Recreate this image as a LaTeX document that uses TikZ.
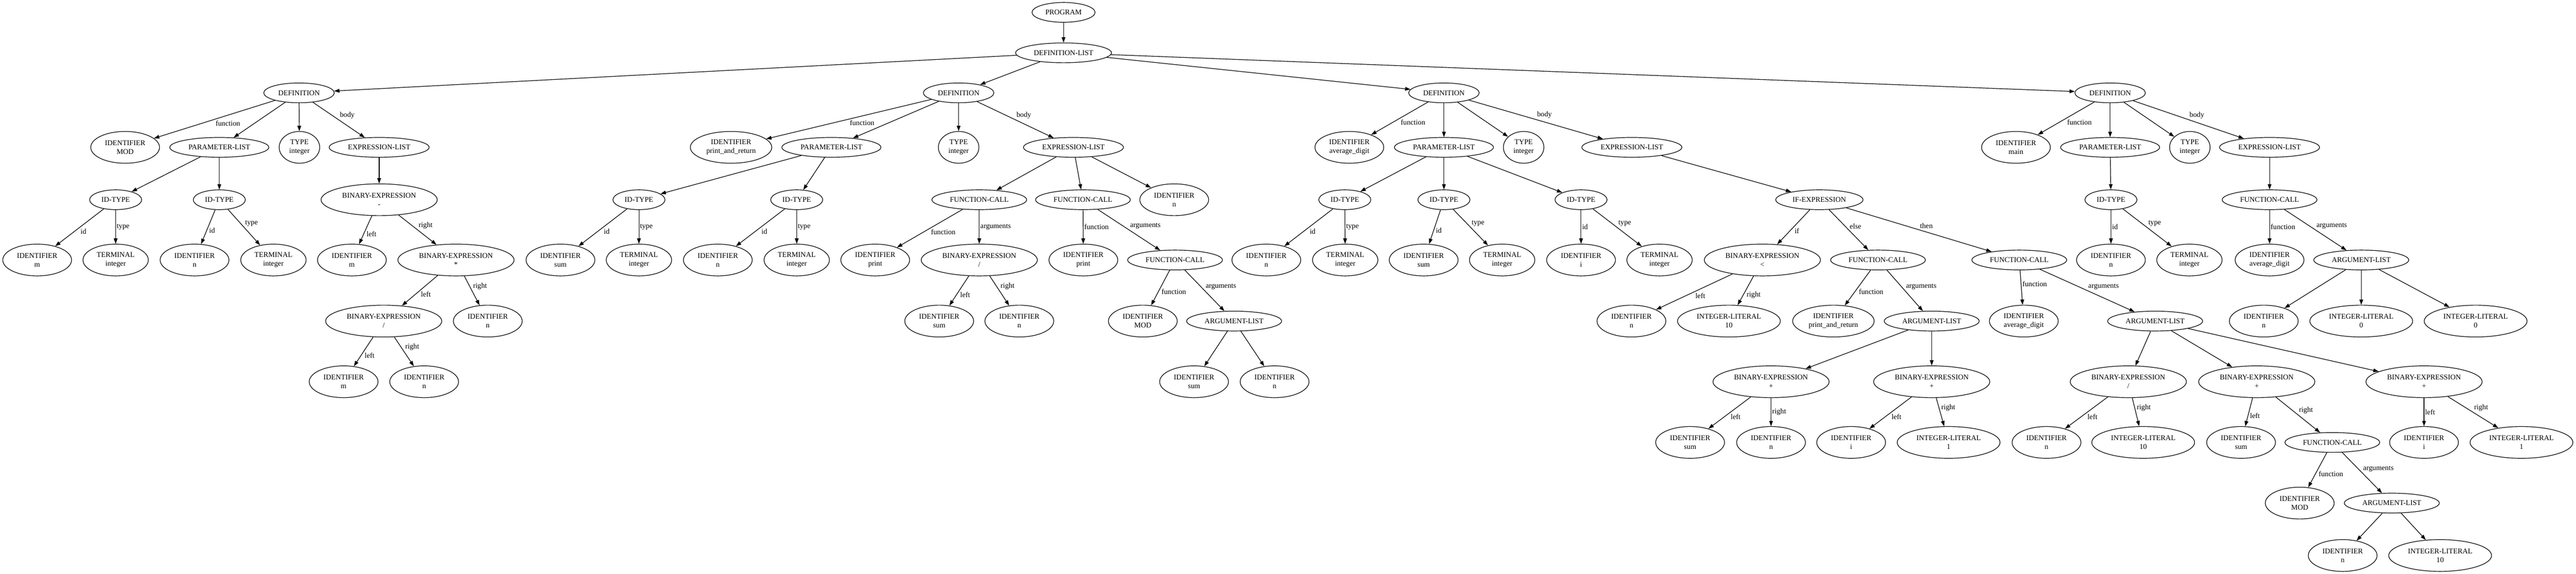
\documentclass[tikz,border=0pt]{standalone}
\usepackage{fontspec}
\setmainfont{Liberation Serif}
\usetikzlibrary{shapes.geometric,arrows.meta}

\tikzset{
  ast/.style={draw, ellipse, line width=0.015cm, inner xsep=0.1cm, inner ysep=0.05cm,
    minimum width=0.69cm, minimum height=0.48cm, align=center},
  val/.style={ast, minimum height=0.77cm},
  link/.style={->, line width=0.015cm},
  lbl/.style={auto, inner sep=0.02cm}
}

\begin{document}
\begin{tikzpicture}[>={Triangle[length=0.13cm,width=0.09cm]},font=\fontsize{5.06}{6.09}\selectfont]
    \useasboundingbox (0,0) rectangle (62.37,-13.90);

    % root
    \node[ast] (prog) at (25.75,-0.30) {PROGRAM};
    \node[ast] (deflist) at (25.75,-1.28) {DEFINITION-LIST};

    % MOD
    \node[ast] (defA) at (7.24,-2.25) {DEFINITION};
    \node[val] (aName) at (3.03,-3.57) {IDENTIFIER\\MOD};
    \node[ast] (aPar) at (5.31,-3.57) {PARAMETER-LIST};
    \node[val] (aType) at (7.25,-3.57) {TYPE\\integer};
    \node[ast] (aBody) at (9.18,-3.57) {EXPRESSION-LIST};
    \node[ast] (aP1) at (2.80,-4.84) {ID-TYPE};
    \node[ast] (aP2) at (5.31,-4.84) {ID-TYPE};
    \node[val] (aB1) at (9.18,-4.84) {BINARY-EXPRESSION\\-};
    \node[val] (aP1i) at (0.90,-6.30) {IDENTIFIER\\m};
    \node[val] (aP1t) at (2.80,-6.30) {TERMINAL\\integer};
    \node[val] (aP2i) at (4.71,-6.30) {IDENTIFIER\\n};
    \node[val] (aP2t) at (6.62,-6.30) {TERMINAL\\integer};
    \node[val] (aB1l) at (8.52,-6.30) {IDENTIFIER\\m};
    \node[val] (aB2) at (11.04,-6.30) {BINARY-EXPRESSION\\*};
    \node[val] (aB3) at (9.29,-7.78) {BINARY-EXPRESSION\\/};
    \node[val] (aB2r) at (11.81,-7.78) {IDENTIFIER\\n};
    \node[val] (aB3l) at (8.32,-9.25) {IDENTIFIER\\m};
    \node[val] (aB3r) at (10.27,-9.25) {IDENTIFIER\\n};

    % print_and_return
    \node[ast] (defB) at (23.21,-2.25) {DEFINITION};
    \node[val] (bName) at (17.70,-3.57) {IDENTIFIER\\print\_and\_return};
    \node[ast] (bPar) at (20.13,-3.57) {PARAMETER-LIST};
    \node[val] (bType) at (23.21,-3.57) {TYPE\\integer};
    \node[ast] (bBody) at (25.99,-3.57) {EXPRESSION-LIST};
    \node[ast] (bP1) at (15.47,-4.84) {ID-TYPE};
    \node[ast] (bP2) at (19.29,-4.84) {ID-TYPE};
    \node[ast] (bC1) at (23.71,-4.84) {FUNCTION-CALL};
    \node[ast] (bC2) at (26.22,-4.84) {FUNCTION-CALL};
    \node[val] (bRet) at (28.43,-4.84) {IDENTIFIER\\n};
    \node[val] (bP1i) at (13.57,-6.30) {IDENTIFIER\\sum};
    \node[val] (bP1t) at (15.47,-6.30) {TERMINAL\\integer};
    \node[val] (bP2i) at (17.38,-6.30) {IDENTIFIER\\n};
    \node[val] (bP2t) at (19.29,-6.30) {TERMINAL\\integer};
    \node[val] (bC1f) at (21.19,-6.30) {IDENTIFIER\\print};
    \node[val] (bC1a) at (23.71,-6.30) {BINARY-EXPRESSION\\/};
    \node[val] (bC2f) at (26.23,-6.30) {IDENTIFIER\\print};
    \node[ast] (bC3) at (28.45,-6.30) {FUNCTION-CALL};
    \node[val] (bC1l) at (22.74,-7.78) {IDENTIFIER\\sum};
    \node[val] (bC1r) at (24.68,-7.78) {IDENTIFIER\\n};
    \node[val] (bC3f) at (27.67,-7.78) {IDENTIFIER\\MOD};
    \node[ast] (bC3a) at (29.88,-7.78) {ARGUMENT-LIST};
    \node[val] (bC3a1) at (28.91,-9.25) {IDENTIFIER\\sum};
    \node[val] (bC3a2) at (30.86,-9.25) {IDENTIFIER\\n};

    % average_digit
    \node[ast] (defC) at (34.96,-2.25) {DEFINITION};
    \node[val] (cName) at (32.67,-3.57) {IDENTIFIER\\average\_digit};
    \node[ast] (cPar) at (34.96,-3.57) {PARAMETER-LIST};
    \node[val] (cType) at (36.89,-3.57) {TYPE\\integer};
    \node[ast] (cBody) at (39.51,-3.57) {EXPRESSION-LIST};
    \node[ast] (cP1) at (32.56,-4.84) {ID-TYPE};
    \node[ast] (cP2) at (34.96,-4.84) {ID-TYPE};
    \node[ast] (cP3) at (38.28,-4.84) {ID-TYPE};
    \node[ast] (cIf) at (44.05,-4.84) {IF-EXPRESSION};
    \node[val] (cP1i) at (30.66,-6.30) {IDENTIFIER\\n};
    \node[val] (cP1t) at (32.57,-6.30) {TERMINAL\\integer};
    \node[val] (cP2i) at (34.47,-6.30) {IDENTIFIER\\sum};
    \node[val] (cP2t) at (36.37,-6.30) {TERMINAL\\integer};
    \node[val] (cP3i) at (38.28,-6.30) {IDENTIFIER\\i};
    \node[val] (cP3t) at (40.18,-6.30) {TERMINAL\\integer};
    \node[val] (cCond) at (42.67,-6.30) {BINARY-EXPRESSION\\<};
    \node[ast] (cElse) at (45.47,-6.30) {FUNCTION-CALL};
    \node[ast] (cThen) at (48.89,-6.30) {FUNCTION-CALL};
    \node[val] (cCondl) at (39.50,-7.78) {IDENTIFIER\\n};
    \node[val] (cCondr) at (41.86,-7.78) {INTEGER-LITERAL\\10};
    \node[val] (cElsef) at (44.39,-7.78) {IDENTIFIER\\print\_and\_return};
    \node[ast] (cElsea) at (46.77,-7.78) {ARGUMENT-LIST};
    \node[val] (cThenf) at (49.00,-7.78) {IDENTIFIER\\average\_digit};
    \node[ast] (cThena) at (52.18,-7.78) {ARGUMENT-LIST};
    \node[val] (cE1) at (42.88,-9.25) {BINARY-EXPRESSION\\+};
    \node[val] (cE2) at (46.77,-9.25) {BINARY-EXPRESSION\\+};
    \node[val] (cT1) at (51.53,-9.25) {BINARY-EXPRESSION\\/};
    \node[val] (cT2) at (54.64,-9.25) {BINARY-EXPRESSION\\+};
    \node[val] (cT3) at (58.69,-9.25) {BINARY-EXPRESSION\\+};
    \node[val] (cE1l) at (40.92,-10.72) {IDENTIFIER\\sum};
    \node[val] (cE1r) at (42.88,-10.72) {IDENTIFIER\\n};
    \node[val] (cE2l) at (44.82,-10.72) {IDENTIFIER\\i};
    \node[val] (cE2r) at (47.18,-10.72) {INTEGER-LITERAL\\1};
    \node[val] (cT1l) at (49.55,-10.72) {IDENTIFIER\\n};
    \node[val] (cT1r) at (51.89,-10.72) {INTEGER-LITERAL\\10};
    \node[val] (cT2l) at (54.26,-10.72) {IDENTIFIER\\sum};
    \node[ast] (cT2r) at (56.47,-10.72) {FUNCTION-CALL};
    \node[val] (cT3l) at (58.69,-10.72) {IDENTIFIER\\i};
    \node[val] (cT3r) at (61.05,-10.72) {INTEGER-LITERAL\\1};
    \node[val] (cModf) at (55.68,-12.19) {IDENTIFIER\\MOD};
    \node[ast] (cModa) at (57.91,-12.19) {ARGUMENT-LIST};
    \node[val] (cModa1) at (56.72,-13.46) {IDENTIFIER\\n};
    \node[val] (cModa2) at (59.08,-13.46) {INTEGER-LITERAL\\10};

    % main
    \node[ast] (defD) at (51.09,-2.25) {DEFINITION};
    \node[val] (dName) at (48.81,-3.57) {IDENTIFIER\\main};
    \node[ast] (dPar) at (51.09,-3.57) {PARAMETER-LIST};
    \node[val] (dType) at (53.02,-3.57) {TYPE\\integer};
    \node[ast] (dBody) at (54.95,-3.57) {EXPRESSION-LIST};
    \node[ast] (dP1) at (51.11,-4.84) {ID-TYPE};
    \node[ast] (dCall) at (54.95,-4.84) {FUNCTION-CALL};
    \node[val] (dP1i) at (51.11,-6.30) {IDENTIFIER\\n};
    \node[val] (dP1t) at (53.01,-6.30) {TERMINAL\\integer};
    \node[val] (dCallf) at (54.95,-6.30) {IDENTIFIER\\average\_digit};
    \node[ast] (dCalla) at (57.17,-6.30) {ARGUMENT-LIST};
    \node[val] (dA1) at (54.81,-7.78) {IDENTIFIER\\n};
    \node[val] (dA2) at (57.17,-7.78) {INTEGER-LITERAL\\0};
    \node[val] (dA3) at (59.94,-7.78) {INTEGER-LITERAL\\0};

    % plain edges
    \foreach \a/\b in {prog/deflist, deflist/defA, deflist/defB, deflist/defC, deflist/defD,
        defA/aPar, defA/aType, aPar/aP1, aPar/aP2, aBody/aB1,
        defB/bPar, defB/bType, bPar/bP1, bPar/bP2, bBody/bC1, bBody/bC2, bBody/bRet,
        bC3a/bC3a1, bC3a/bC3a2,
        defC/cPar, defC/cType, cPar/cP1, cPar/cP2, cPar/cP3, cBody/cIf,
        cElsea/cE1, cElsea/cE2, cThena/cT1, cThena/cT2, cThena/cT3, cModa/cModa1, cModa/cModa2,
        defD/dPar, defD/dType, dPar/dP1, dBody/dCall, dCalla/dA1, dCalla/dA2, dCalla/dA3}
        \draw[link] (\a) -- (\b);

    % labelled edges
    \foreach \a/\b/\l in {defA/aName/function, defA/aBody/body,
        aP1/aP1i/id, aP1/aP1t/type, aP2/aP2i/id, aP2/aP2t/type,
        aB1/aB1l/left, aB1/aB2/right, aB2/aB3/left, aB2/aB2r/right, aB3/aB3l/left, aB3/aB3r/right,
        defB/bName/function, defB/bBody/body,
        bP1/bP1i/id, bP1/bP1t/type, bP2/bP2i/id, bP2/bP2t/type,
        bC1/bC1f/function, bC1/bC1a/arguments, bC1a/bC1l/left, bC1a/bC1r/right,
        bC2/bC2f/function, bC2/bC3/arguments, bC3/bC3f/function, bC3/bC3a/arguments,
        defC/cName/function, defC/cBody/body,
        cP1/cP1i/id, cP1/cP1t/type, cP2/cP2i/id, cP2/cP2t/type, cP3/cP3i/id, cP3/cP3t/type,
        cIf/cCond/if, cIf/cElse/else, cIf/cThen/then, cCond/cCondl/left, cCond/cCondr/right,
        cElse/cElsef/function, cElse/cElsea/arguments,
        cE1/cE1l/left, cE1/cE1r/right, cE2/cE2l/left, cE2/cE2r/right,
        cThen/cThenf/function, cThen/cThena/arguments,
        cT1/cT1l/left, cT1/cT1r/right, cT2/cT2l/left, cT2/cT2r/right, cT3/cT3l/left, cT3/cT3r/right,
        cT2r/cModf/function, cT2r/cModa/arguments,
        defD/dName/function, defD/dBody/body, dP1/dP1i/id, dP1/dP1t/type,
        dCall/dCallf/function, dCall/dCalla/arguments}
        \draw[link] (\a) -- node[lbl] {\l} (\b);
\end{tikzpicture}
\end{document}
